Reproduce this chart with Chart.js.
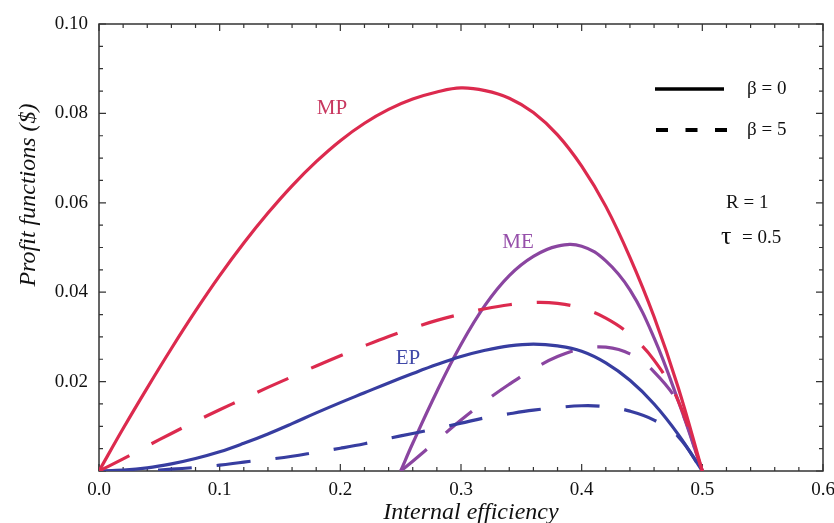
<!DOCTYPE html>
<html>
<head>
<meta charset="utf-8">
<script src="https://cdn.jsdelivr.net/npm/chart.js@4.4.0/dist/chart.umd.min.js"></script>
<style>
  html, body { margin: 0; padding: 0; background: #fff; }
</style>
</head>
<body>
<canvas id="profitChart" width="834" height="523"></canvas>
<script>
// internal efficiency grid
const effX = [0, 0.02, 0.04, 0.06, 0.08, 0.10, 0.12, 0.14, 0.16, 0.18, 0.20, 0.22, 0.24,
  0.26, 0.28, 0.30, 0.32, 0.34, 0.36, 0.38, 0.40, 0.42, 0.44, 0.46, 0.48, 0.50];

// MP, EP : beta = 0 (solid) and beta = 5 (dashed)
const mpSolid = [0, 0.0095, 0.0186, 0.0274, 0.0358, 0.0437, 0.0510, 0.0577, 0.0638, 0.0692, 0.0739, 0.0778, 0.0809,
  0.0832, 0.0848, 0.0857, 0.0851, 0.0834, 0.0802, 0.0752, 0.0682, 0.0592, 0.0478, 0.0345, 0.0187, 0];
const mpDashed = [0, 0.0027, 0.0056, 0.0084, 0.0111, 0.0137, 0.0162, 0.0187, 0.0211, 0.0235, 0.0258, 0.0280, 0.0301,
  0.0320, 0.0337, 0.0351, 0.0363, 0.0372, 0.0377, 0.0375, 0.0364, 0.0342, 0.0305, 0.0248, 0.0157, 0];
const epSolid = [0, 0.0002, 0.0007, 0.0016, 0.0028, 0.0043, 0.0062, 0.0083, 0.0106, 0.0130, 0.0153, 0.0175, 0.0197,
  0.0218, 0.0238, 0.0256, 0.0270, 0.0280, 0.0284, 0.0280, 0.0268, 0.0242, 0.0203, 0.0150, 0.0082, 0];
const epDashed = [0, 0.0000, 0.0001, 0.0004, 0.0008, 0.0013, 0.0020, 0.0026, 0.0033, 0.0042, 0.0051, 0.0061, 0.0073,
  0.0084, 0.0095, 0.0107, 0.0119, 0.0128, 0.0136, 0.0142, 0.0146, 0.0144, 0.0134, 0.0114, 0.0077, 0];

// ME only exists from 0.25
const meX = [0.25, 0.26, 0.28, 0.30, 0.32, 0.34, 0.36, 0.38, 0.40, 0.42, 0.44, 0.46, 0.48, 0.50];
const meSolid = [0, 0.0062, 0.0178, 0.0283, 0.0371, 0.0437, 0.0480, 0.0503, 0.0503, 0.0470, 0.0405, 0.0298, 0.0157, 0];
const meDashed = [0, 0.0022, 0.0068, 0.0114, 0.0156, 0.0194, 0.0228, 0.0256, 0.0273, 0.0277, 0.0262, 0.0222, 0.0150, 0];

const xTickVals = [0, 0.1, 0.2, 0.3, 0.4, 0.5, 0.6];
const yTickVals = [0, 0.02, 0.04, 0.06, 0.08, 0.10];

const RED = "#DC2A4E";
const BLUE = "#373DA0";
const PURPLE = "#8A45A0";
const DASH = [34, 25];

const pts = (xs, ys) => xs.map((x, i) => ({ x: x, y: ys[i] }));

const curve = (xs, ys, color, dashed) => ({
  data: pts(xs, ys),
  borderColor: color,
  borderWidth: 3.2,
  borderDash: dashed ? DASH : [],
  borderCapStyle: "butt",
  pointRadius: 0,
  tension: 0.4,
  fill: false,
});

const SERIF = "'Liberation Serif', 'DejaVu Serif', serif";

// frame with inward ticks on all four sides
const frameTicks = {
  id: "frameTicks",
  beforeDatasetsDraw(chart) {
    const { ctx, chartArea: a, scales: { x, y } } = chart;
    ctx.save();
    ctx.strokeStyle = "#333";
    ctx.lineWidth = 1.5;
    ctx.strokeRect(a.left, a.top, a.right - a.left, a.bottom - a.top);
    ctx.lineWidth = 1.2;
    ctx.beginPath();
    for (let i = 0; i <= 30; i++) {
      const px = x.getPixelForValue(i * 0.02);
      const len = i % 5 === 0 ? 7 : 4;
      ctx.moveTo(px, a.bottom); ctx.lineTo(px, a.bottom - len);
      ctx.moveTo(px, a.top); ctx.lineTo(px, a.top + len);
    }
    for (let i = 0; i <= 20; i++) {
      const py = y.getPixelForValue(i * 0.005);
      const len = i % 4 === 0 ? 7 : 4;
      ctx.moveTo(a.left, py); ctx.lineTo(a.left + len, py);
      ctx.moveTo(a.right, py); ctx.lineTo(a.right - len, py);
    }
    ctx.stroke();
    ctx.restore();
  },
  afterDraw(chart) {
    const { ctx } = chart;
    ctx.save();
    // axis titles
    ctx.fillStyle = "#111";
    ctx.font = "italic 24px " + SERIF;
    ctx.textAlign = "center";
    ctx.textBaseline = "alphabetic";
    ctx.fillText("Internal efficiency", 471, 519);
    ctx.save();
    ctx.translate(35, 195);
    ctx.rotate(-Math.PI / 2);
    ctx.fillText("Profit functions ($)", 0, 0);
    ctx.restore();

    // curve labels
    ctx.font = "21px " + SERIF;
    ctx.textBaseline = "middle";
    ctx.fillStyle = "#C8375F"; ctx.fillText("MP", 332, 108);
    ctx.fillStyle = "#9650AA"; ctx.fillText("ME", 518, 242);
    ctx.fillStyle = "#4048A8"; ctx.fillText("EP", 408, 358);

    // legend
    ctx.strokeStyle = "#000";
    ctx.lineWidth = 3.5;
    ctx.setLineDash([]);
    ctx.beginPath(); ctx.moveTo(655, 89); ctx.lineTo(724, 89); ctx.stroke();
    ctx.lineWidth = 4;
    ctx.setLineDash([12, 17.5]);
    ctx.beginPath(); ctx.moveTo(656, 130); ctx.lineTo(728, 130); ctx.stroke();
    ctx.setLineDash([]);

    ctx.fillStyle = "#111";
    ctx.font = "19px " + SERIF;
    ctx.textAlign = "left";
    ctx.fillText("\u03B2 = 0", 747, 89);
    ctx.fillText("\u03B2 = 5", 747, 130);
    ctx.fillText("R = 1", 726, 203);
    ctx.font = "26px " + SERIF;
    ctx.fillText("\u03C4", 721, 237);
    ctx.font = "19px " + SERIF;
    ctx.fillText("= 0.5", 742, 238);
    ctx.restore();
  },
};

new Chart(document.getElementById("profitChart").getContext("2d"), {
  type: "line",
  data: {
    datasets: [
      curve(effX, mpSolid, RED, false),
      curve(effX, mpDashed, RED, true),
      curve(effX, epSolid, BLUE, false),
      curve(effX, epDashed, BLUE, true),
      curve(meX, meSolid, PURPLE, false),
      curve(meX, meDashed, PURPLE, true),
    ],
  },
  options: {
    responsive: false,
    animation: false,
    layout: { padding: { top: 24, right: 11, left: 0, bottom: 0 } },
    plugins: { legend: { display: false }, tooltip: { enabled: false } },
    scales: {
      x: {
        type: "linear",
        min: 0,
        max: 0.6,
        afterBuildTicks: (s) => { s.ticks = xTickVals.map((v) => ({ value: v })); },
        afterFit: (s) => { s.height = 52; s.paddingLeft = 0; s.paddingRight = 0; },
        grid: { display: false, drawTicks: false },
        border: { display: false },
        ticks: {
          padding: 8,
          color: "#111",
          font: { family: SERIF, size: 19 },
          maxRotation: 0,
          callback: (v) => v.toFixed(1),
        },
      },
      y: {
        min: 0,
        max: 0.1,
        afterBuildTicks: (s) => { s.ticks = yTickVals.map((v) => ({ value: v })); },
        afterFit: (s) => { s.width = 99; s.paddingTop = 0; s.paddingBottom = 0; },
        grid: { display: false, drawTicks: false },
        border: { display: false },
        ticks: {
          padding: 11,
          color: "#111",
          font: { family: SERIF, size: 19 },
          callback: (v) => (v === 0 ? "" : v.toFixed(2)),
        },
      },
    },
  },
  plugins: [frameTicks],
});
</script>
</body>
</html>
